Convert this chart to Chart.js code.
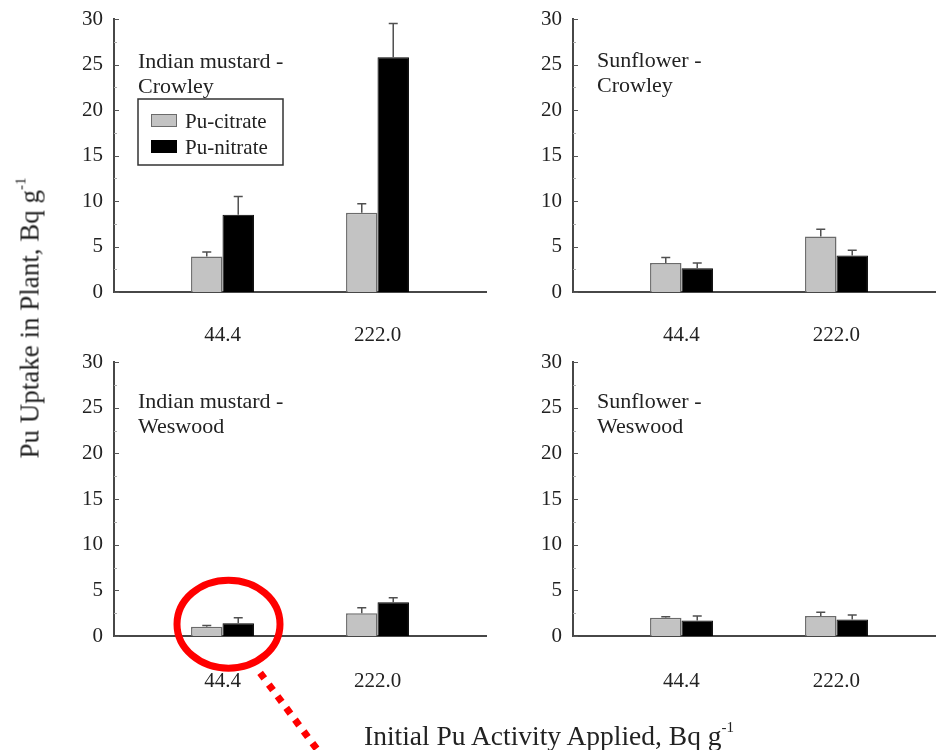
<!DOCTYPE html>
<html>
<head>
<meta charset="utf-8">
<script src="https://cdn.jsdelivr.net/npm/chart.js@4.4.1/dist/chart.umd.min.js"></script>
<style>
  html, body { margin: 0; padding: 0; background: #fff; }
  #wrap { position: relative; width: 936px; height: 750px; overflow: hidden; background: #fff;
          font-family: "Liberation Serif", "Times New Roman", serif; color: #222; }
  #wrap canvas { position: absolute; }
  .axis-title { position: absolute; line-height: 1; white-space: nowrap; z-index: 5; }
  .axis-title sup { font-size: 15px; vertical-align: 0; position: relative; top: -13px; }
  #ytitle { font-size: 27px; left: 30px; top: 318px; transform: translate(-50%, -50%) rotate(-90deg); }
  #xtitle { font-size: 27.5px; left: 549px; top: 736px; transform: translate(-50%, -50%); }
</style>
</head>
<body>
<div id="wrap">
  <canvas id="p0" width="500" height="362" style="left:0px;top:0px"></canvas>
  <canvas id="p1" width="436" height="362" style="left:500px;top:0px"></canvas>
  <canvas id="p2" width="500" height="405" style="left:0px;top:345px"></canvas>
  <canvas id="p3" width="436" height="405" style="left:500px;top:345px"></canvas>
  <div id="ytitle" class="axis-title">Pu Uptake in Plant, Bq g<sup>-1</sup></div>
  <div id="xtitle" class="axis-title">Initial Pu Activity Applied, Bq g<sup>-1</sup></div>
</div>
<script>
// Initial Pu activity applied to the soil (category labels)
const categories = ['44.4', '222.0'];
const seriesNames = ['Pu-citrate', 'Pu-nitrate'];

// Panel order: Indian mustard-Crowley, Sunflower-Crowley, Indian mustard-Weswood, Sunflower-Weswood
const panelTitles = [
  ['Indian mustard -', 'Crowley'],
  ['Sunflower -', 'Crowley'],
  ['Indian mustard -', 'Weswood'],
  ['Sunflower -', 'Weswood']
];

// Mean Pu uptake in plant (Bq g-1) and standard error, per panel, per category
const citrateMean = [[3.9, 8.7], [3.2, 6.1], [1.0, 2.5], [2.0, 2.2]];
const citrateErr  = [[0.5, 1.0], [0.6, 0.8], [0.15, 0.6], [0.1, 0.4]];
const nitrateMean = [[8.5, 25.8], [2.6, 4.0], [1.4, 3.7], [1.7, 1.8]];
const nitrateErr  = [[2.0, 3.7], [0.6, 0.6], [0.6, 0.5], [0.5, 0.5]];

// Y axis range and tick step
const yMin = 0, yMax = 30, yStep = 5;

// Panel geometry inside the page
const layouts = [
  { id: 'p0', axisW: 114, padTop: 19, padRight: 14, axisH: 70,  tickPad: 31, xMin: 0.3, xMax: 2.7,   labelY: 49, legend: true },
  { id: 'p1', axisW: 73,  padTop: 19, padRight: 0,  axisH: 70,  tickPad: 31, xMin: 0.3, xMax: 2.642, labelY: 48 },
  { id: 'p2', axisW: 114, padTop: 17, padRight: 14, axisH: 114, tickPad: 33, xMin: 0.3, xMax: 2.7,   labelY: 46, highlight: true },
  { id: 'p3', axisW: 73,  padTop: 17, padRight: 0,  axisH: 114, tickPad: 33, xMin: 0.3, xMax: 2.642, labelY: 46 }
];

const FONT = '"Liberation Serif", "Times New Roman", serif';
const INK = '#222';
const AXIS = '#474747';
const citrateFill = '#c3c3c3', citrateEdge = '#6b6b6b';
const nitrateFill = '#000000', nitrateEdge = '#000000';

// Upward error bars with a small cap
const errorBars = {
  id: 'errorBars',
  afterDatasetsDraw(chart) {
    const ctx = chart.ctx, y = chart.scales.y;
    chart.data.datasets.forEach((ds, di) => {
      const meta = chart.getDatasetMeta(di);
      meta.data.forEach((bar, j) => {
        const v = ds.data[j].y, e = ds.errors[j];
        const top = y.getPixelForValue(v + e);
        ctx.save();
        ctx.strokeStyle = '#505050';
        ctx.lineWidth = 1.5;
        ctx.beginPath();
        ctx.moveTo(bar.x, bar.y);
        ctx.lineTo(bar.x, top);
        ctx.moveTo(bar.x - 4.5, top);
        ctx.lineTo(bar.x + 4.5, top);
        ctx.stroke();
        ctx.restore();
      });
    });
  }
};

// Short tick marks pointing into the plot from the y axis
const innerTicks = {
  id: 'innerTicks',
  afterDraw(chart) {
    const ctx = chart.ctx, y = chart.scales.y, left = chart.chartArea.left;
    ctx.save();
    for (let v = yMin; v <= yMax; v += yStep / 2) {
      const major = v % yStep === 0;
      const py = Math.round(y.getPixelForValue(v)) + 0.5;
      ctx.strokeStyle = major ? '#555' : '#aaa';
      ctx.lineWidth = 1;
      ctx.beginPath();
      ctx.moveTo(left, py);
      ctx.lineTo(left + (major ? 5 : 3), py);
      ctx.stroke();
    }
    ctx.restore();
  }
};

function makePanelLabel(lines, offsetY) {
  return {
    id: 'panelLabel',
    afterDraw(chart) {
      const ctx = chart.ctx, a = chart.chartArea;
      ctx.save();
      ctx.font = '22px ' + FONT;
      ctx.fillStyle = INK;
      ctx.textAlign = 'left';
      ctx.textBaseline = 'alphabetic';
      lines.forEach((t, i) => ctx.fillText(t, a.left + 24, a.top + offsetY + i * 25));
      ctx.restore();
    }
  };
}

// Boxed legend inside the plot
const boxLegend = {
  id: 'boxLegend',
  afterDraw(chart) {
    const ctx = chart.ctx, a = chart.chartArea;
    const bx = a.left + 24, by = a.top + 80, bw = 145, bh = 66;
    ctx.save();
    ctx.strokeStyle = '#333';
    ctx.lineWidth = 1.5;
    ctx.strokeRect(bx, by, bw, bh);
    ctx.font = '21px ' + FONT;
    ctx.textBaseline = 'middle';
    ctx.textAlign = 'left';
    chart.data.datasets.forEach((ds, i) => {
      const sy = by + 15 + i * 26;
      ctx.fillStyle = ds.backgroundColor;
      ctx.fillRect(bx + 13, sy, 26, 13);
      ctx.strokeStyle = ds.borderColor;
      ctx.lineWidth = 1;
      ctx.strokeRect(bx + 13.5, sy + 0.5, 25, 12);
      ctx.fillStyle = INK;
      ctx.fillText(ds.label, bx + 47, sy + 8);
    });
    ctx.restore();
  }
};

// Red ring with a dotted leader around the low-activity Weswood bars
const highlightRing = {
  id: 'highlightRing',
  afterDraw(chart) {
    const ctx = chart.ctx, x = chart.scales.x, y = chart.scales.y;
    const cx = x.getPixelForValue(1) + 6;
    const cy = y.getPixelForValue(1.3);
    ctx.save();
    ctx.strokeStyle = '#ff0000';
    ctx.lineWidth = 7;
    ctx.beginPath();
    ctx.ellipse(cx, cy, 51.5, 44, 0, 0, Math.PI * 2);
    ctx.stroke();
    const sx = cx + 31.6, sy = cy + 48.7;
    const dx = 0.597, dy = 0.802;
    ctx.setLineDash([7, 7.6]);
    ctx.lineCap = 'butt';
    ctx.beginPath();
    ctx.moveTo(sx, sy);
    ctx.lineTo(sx + dx * 200, sy + dy * 200);
    ctx.stroke();
    ctx.restore();
  }
};

layouts.forEach((L, p) => {
  const toPoints = arr => arr.map((v, i) => ({ x: i + 1, y: v }));
  const plugins = [innerTicks, errorBars, makePanelLabel(panelTitles[p], L.labelY)];
  if (L.legend) plugins.push(boxLegend);
  if (L.highlight) plugins.push(highlightRing);

  new Chart(document.getElementById(L.id), {
    type: 'bar',
    data: {
      datasets: [
        { label: seriesNames[0], data: toPoints(citrateMean[p]), errors: citrateErr[p],
          backgroundColor: citrateFill, borderColor: citrateEdge, borderWidth: 1.5 },
        { label: seriesNames[1], data: toPoints(nitrateMean[p]), errors: nitrateErr[p],
          backgroundColor: nitrateFill, borderColor: nitrateEdge, borderWidth: 1 }
      ]
    },
    options: {
      responsive: false,
      animation: false,
      devicePixelRatio: 1,
      barPercentage: 1,
      categoryPercentage: 0.406,
      layout: { padding: { top: L.padTop, right: L.padRight, left: 0, bottom: 0 } },
      plugins: { legend: { display: false }, tooltip: { enabled: false }, title: { display: false } },
      scales: {
        x: {
          type: 'linear',
          min: L.xMin,
          max: L.xMax,
          offset: false,
          grid: { display: false, drawTicks: false },
          border: { display: true, color: AXIS, width: 2 },
          afterBuildTicks: s => { s.ticks = categories.map((c, i) => ({ value: i + 1 })); },
          afterFit: s => { s.height = L.axisH; s.paddingLeft = 0; s.paddingRight = 0; },
          ticks: {
            autoSkip: false, maxRotation: 0, padding: L.tickPad,
            color: INK, font: { family: FONT, size: 21 },
            callback: v => categories[v - 1] ?? ''
          }
        },
        y: {
          min: yMin,
          max: yMax,
          grid: { display: false, drawTicks: false },
          border: { display: true, color: AXIS, width: 2 },
          afterFit: s => { s.width = L.axisW; s.paddingTop = 0; s.paddingBottom = 0; },
          ticks: { stepSize: yStep, padding: 11, color: INK, font: { family: FONT, size: 21 } }
        }
      }
    },
    plugins
  });
});
</script>
</body>
</html>
